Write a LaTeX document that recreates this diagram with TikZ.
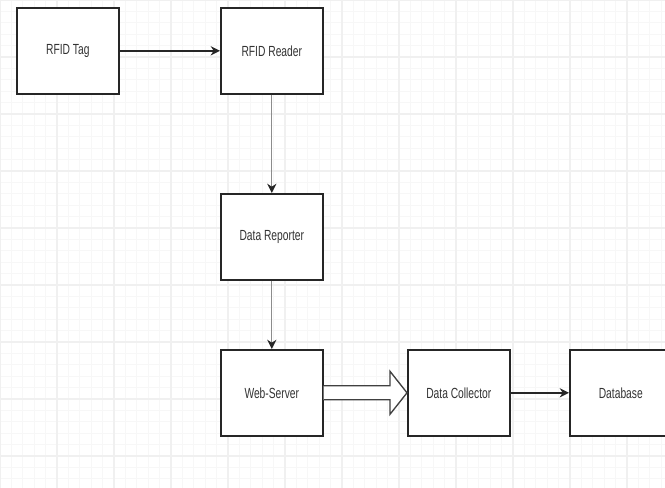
\documentclass[tikz,border=0pt]{standalone}
\usepackage{fontspec}
\setmainfont[FakeStretch=0.7]{Liberation Sans}
\usetikzlibrary{arrows.meta}
\begin{document}
\begin{tikzpicture}[x=0.75pt,y=-0.75pt,
  stagebox/.style={draw=black!85,line width=1.2pt,fill=white,minimum width=76.5pt,minimum height=64.5pt,
    inner sep=0pt,font=\fontsize{11}{12}\selectfont,text=black!80,anchor=north west},
  solidflow/.style={line width=1.2pt,draw=black!85,-{Stealth[length=7pt,width=7pt]}},
  greyflow/.style={line width=0.8pt,draw=black!45,-{Stealth[length=7pt,width=7pt,color=black!85]}},
  hollow/.style={draw=black!75,line width=1pt,fill=white,line join=miter}]
\useasboundingbox (0,0) rectangle (665,488);
\clip (0,0) rectangle (665,488);
\fill[white] (0,0) rectangle (665,488);
% background grid
\foreach \i in {0,...,60} {
  \draw[black!3,line width=0.5pt] (\i*11.4,0) -- (\i*11.4,488);
  \draw[black!3,line width=0.5pt] (0,\i*11.4) -- (665,\i*11.4);
}
\foreach \i in {0,...,12} {
  \draw[black!6,line width=0.8pt] (\i*57,0) -- (\i*57,488);
  \draw[black!6,line width=0.8pt] (0,\i*57) -- (665,\i*57);
}
% stages
\node[stagebox] (tag) at (16,7) {RFID Tag};
\node[stagebox] (reader) at (220,7) {RFID Reader};
\node[stagebox] (reporter) at (220,193) {Data Reporter};
\node[stagebox] (server) at (220,349) {Web-Server};
\node[stagebox] (collector) at (407,349) {Data Collector};
\node[stagebox] (db) at (569,349) {Database};
% connectors
\draw[solidflow] (tag.east) -- (reader.west);
\draw[greyflow] (reader.south) -- (reporter.north);
\draw[greyflow] (reporter.south) -- (server.north);
\draw[solidflow] (collector.east) -- (db.west);
% hollow block arrow from the web server to the collector
\coordinate (ba) at (server.east);
\coordinate (bt) at (collector.west);
\draw[hollow] ([yshift=-7*0.75pt]ba) -- ([xshift=-17*0.75pt,yshift=-7*0.75pt]bt)
  -- ([xshift=-17*0.75pt,yshift=-21.5*0.75pt]bt) -- (bt)
  -- ([xshift=-17*0.75pt,yshift=21.5*0.75pt]bt) -- ([xshift=-17*0.75pt,yshift=7*0.75pt]bt)
  -- ([yshift=7*0.75pt]ba);
\end{tikzpicture}
\end{document}
